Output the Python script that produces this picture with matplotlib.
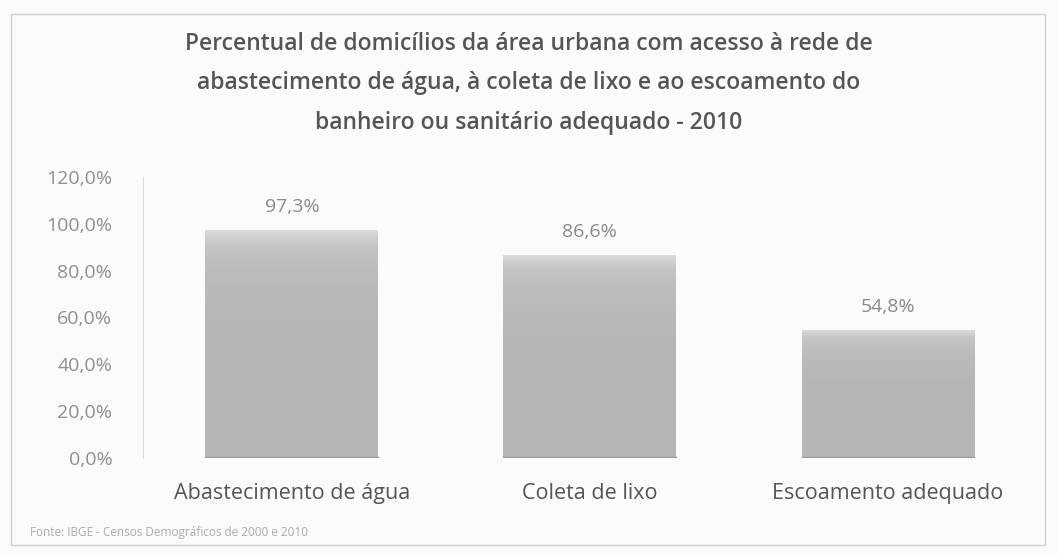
import numpy as np
import matplotlib
matplotlib.use('Agg')
import matplotlib.pyplot as plt
from matplotlib.patches import Rectangle
from matplotlib.colors import LinearSegmentedColormap

categorias = ['Abastecimento de água', 'Coleta de lixo', 'Escoamento adequado']
valores = [97.3, 86.6, 54.8]
rotulos = ['97,3%', '86,6%', '54,8%']
ticks = [0, 20, 40, 60, 80, 100, 120]

plt.rcParams['font.family'] = ['Open Sans', 'DejaVu Sans']

fig = plt.figure(figsize=(10.58, 5.56), dpi=100)
fig.patch.set_facecolor('#fbfbfb')
ax = fig.add_axes([0.135, 0.176, 0.848, 0.506])

x = np.arange(len(categorias))
bars = ax.bar(x, valores, width=0.58, color='none', edgecolor='none', zorder=2)

# gradiente cinza dentro de cada barra (mais claro no topo)
cmap = LinearSegmentedColormap.from_list('cinza', ['#b6b6b6', '#bdbdbd', '#c6c6c6', '#dddddd'])
grad = np.linspace(0, 1, 256).reshape(-1, 1)
for b in bars:
    x0, w, h = b.get_x(), b.get_width(), b.get_height()
    im = ax.imshow(grad ** 6, cmap=cmap, origin='lower', aspect='auto',
                   extent=(x0, x0 + w, 0, h), zorder=2)
    im.set_clip_path(b)
    ax.plot([x0, x0 + w], [0.3, 0.3], color='#9a9a9a', lw=1, zorder=3)

for xi, v, r in zip(x, valores, rotulos):
    ax.text(xi, v + 6, r, ha='center', va='bottom', fontsize=14, color='#8a8a8a')

ax.set_ylim(0, 120)
ax.set_xlim(-0.5, 2.51)
ax.set_yticks(ticks)
ax.set_yticklabels([f'{t},0%' for t in ticks], fontsize=14, color='#8f8f8f')
ax.set_xticks(x)
ax.set_xticklabels(categorias, fontsize=15.5, color='#555555')
ax.tick_params(axis='both', length=0)
ax.tick_params(axis='y', pad=22)
ax.tick_params(axis='x', pad=18)
ax.set_facecolor('none')
for s in ['top', 'right', 'bottom']:
    ax.spines[s].set_visible(False)
ax.spines['left'].set_color('#dcdcdc')

fig.text(0.5, 0.85, 'Percentual de domicílios da área urbana com acesso à rede de\n'
         'abastecimento de água, à coleta de lixo e ao escoamento do\n'
         'banheiro ou sanitário adequado - 2010',
         ha='center', va='center', fontsize=16.5, color='#555555',
         fontweight='semibold', linespacing=1.85)

fig.text(0.028, 0.043, 'Fonte: IBGE - Censos Demográficos de 2000 e 2010',
         fontsize=8.5, color='#aaaaaa', va='center')

fig.add_artist(Rectangle((0.01, 0.02), 0.978, 0.955, transform=fig.transFigure,
                         fill=False, edgecolor='#d0d0d0', linewidth=1))

fig.savefig('out.png', dpi=100, facecolor=fig.get_facecolor())
